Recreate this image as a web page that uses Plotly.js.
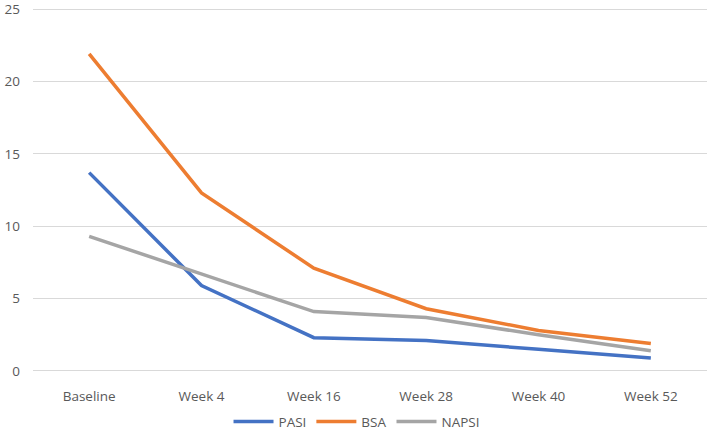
<!DOCTYPE html>
<html>
<head>
<meta charset="utf-8">
<script src="https://cdn.plot.ly/plotly-3.0.1.min.js"></script>
<style>html,body{margin:0;padding:0;background:#fff;}#chart{width:709px;height:436px;}</style>
</head>
<body>
<div id="chart"></div>
<script>
const categories = ["Baseline", "Week 4", "Week 16", "Week 28", "Week 40", "Week 52"];
const pasi  = [13.7, 5.9, 2.3, 2.1, 1.5, 0.9];
const bsa   = [21.9, 12.3, 7.1, 4.3, 2.8, 1.9];
const napsi = [9.3, 6.7, 4.1, 3.7, 2.5, 1.4];
const yTicks = [0, 5, 10, 15, 20, 25];

const mk = (name, y, color) => ({
  type: "scatter", mode: "lines", name: name, x: categories, y: y,
  line: {color: color, width: 3.5}, hoverinfo: "skip"
});

const data = [
  mk("PASI", pasi, "#4472C4"),
  mk("BSA", bsa, "#ED7D31"),
  mk("NAPSI", napsi, "#A5A5A5")
];

const layout = {
  width: 709, height: 436,
  margin: {l: 33, r: 2, t: 7, b: 63},
  paper_bgcolor: "#fff", plot_bgcolor: "#fff",
  font: {family: "Open Sans, sans-serif", size: 13.5, color: "#595959"},
  showlegend: true,
  legend: {orientation: "h", x: 0.48, xanchor: "center", yref: "container", y: 0.033, yanchor: "middle",
           font: {size: 13.5, color: "#595959"}, itemwidth: 40, tracegroupgap: 0},
  xaxis: {type: "category", categoryorder: "array", categoryarray: categories,
          range: [-0.5, 5.5], showgrid: false, zeroline: false, showline: false,
          ticks: "", ticklabelstandoff: 13, fixedrange: true},
  yaxis: {range: [-0.14, 25.14], tickvals: yTicks, ticktext: yTicks.map(String),
          showgrid: true, gridcolor: "#D9D9D9", gridwidth: 1, zeroline: false,
          showline: false, ticks: "", ticklabelstandoff: 12, fixedrange: true,
          ticklabeloverflow: "allow"}
};

Plotly.newPlot("chart", data, layout, {displayModeBar: false, staticPlot: true});
</script>
</body>
</html>
